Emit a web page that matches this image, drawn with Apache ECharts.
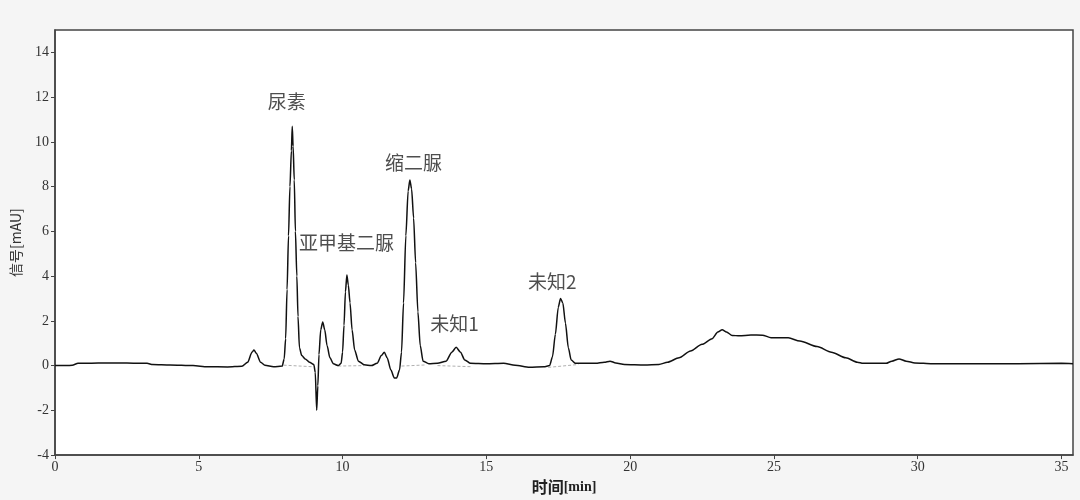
<!DOCTYPE html>
<html>
<head>
<meta charset="utf-8">
<script src="https://cdn.jsdelivr.net/npm/echarts@6/dist/echarts.min.js"></script>
<style>
html,body{margin:0;padding:0;background:#f5f5f5;}
#chart{width:1080px;height:500px;}
</style>
</head>
<body>
<div id="chart"></div>
<script>
// retention time (min)
const timeMin = [0,0.4,0.6,0.8,1.5,2.5,3.2,3.4,4.0,4.8,5.3,6.0,6.5,6.7,6.85,6.92,7.0,7.15,7.3,7.6,7.9,
  7.97,8.02,8.07,8.12,8.17,8.22,8.25,8.28,8.32,8.36,8.41,8.45,8.5,8.58,8.7,8.85,9.0,9.05,9.1,9.14,9.18,9.24,9.31,9.38,9.46,9.56,9.68,9.85,
  9.95,10.0,10.05,10.1,10.15,10.2,10.26,10.33,10.42,10.55,10.75,11.0,11.2,11.35,11.45,11.55,11.68,11.8,11.88,11.98,
  12.05,12.12,12.2,12.28,12.34,12.4,12.47,12.54,12.62,12.7,12.8,13.0,13.3,13.6,13.8,13.95,14.1,14.25,14.45,15.0,15.6,16.0,16.5,17.0,
  17.2,17.3,17.4,17.5,17.58,17.66,17.75,17.85,17.95,18.1,18.8,19.1,19.3,19.5,19.8,20.5,21.0,21.3,21.7,22.1,22.5,22.85,23.05,23.2,23.35,
  23.55,23.8,24.2,24.6,24.9,25.5,25.9,26.5,27.0,27.5,27.9,28.1,28.9,29.1,29.35,29.6,29.9,30.5,32.0,33.5,35.0,35.4];
// signal (mAU)
const signalMAU = [0,0,0.02,0.1,0.12,0.12,0.1,0.05,0.03,0,-0.05,-0.06,-0.03,0.15,0.6,0.7,0.55,0.15,0.02,-0.05,-0.02,
  0.3,1.2,3.4,5.8,8.0,9.6,10.7,9.8,8.3,6.0,4.0,2.2,0.8,0.45,0.3,0.15,0.05,-0.3,-2.0,-0.9,0.5,1.6,1.95,1.6,0.9,0.35,0.08,0,
  0.1,0.6,1.8,3.3,4.05,3.6,2.8,1.6,0.7,0.2,0.04,0,0.1,0.45,0.6,0.35,-0.2,-0.55,-0.55,-0.2,
  0.6,2.8,5.8,7.8,8.3,7.9,6.6,4.6,2.4,0.9,0.2,0.08,0.1,0.2,0.6,0.82,0.6,0.25,0.1,0.08,0.1,0.02,-0.07,-0.05,
  0,0.4,1.4,2.6,3.0,2.8,1.9,0.8,0.25,0.1,0.1,0.15,0.2,0.12,0.05,0.03,0.05,0.15,0.35,0.65,0.95,1.2,1.5,1.6,1.5,
  1.35,1.33,1.37,1.36,1.25,1.24,1.1,0.85,0.6,0.35,0.15,0.1,0.1,0.2,0.3,0.2,0.12,0.08,0.08,0.08,0.1,0.08];
// integration baselines (start/end pairs)
const baseStartT = [7.95, 9.85, 12.05, 13.3, 17.15];
const baseStartV = [0.02, -0.02, -0.02, 0.0, -0.08];
const baseEndT   = [8.95, 10.75, 12.9, 14.5, 18.2];
const baseEndV   = [-0.05, 0.0, 0.03, -0.05, 0.05];
// peak annotations
const peakNames = ['尿素','亚甲基二脲','缩二脲','未知1','未知2'];
const peakLabelT = [8.06, 10.14, 12.47, 13.89, 17.29];
const peakLabelV = [11.8, 5.48, 9.05, 1.85, 3.75];
// axes
const xTicks = [0,5,10,15,20,25,30,35];
const yTicks = [-4,-2,0,2,4,6,8,10,12,14];

const lineData = timeMin.map((t,i)=>[t, signalMAU[i]]);
const baseData = [];
baseStartT.forEach((t,i)=>{ baseData.push([t, baseStartV[i]], [baseEndT[i], baseEndV[i]], [null,null]); });
const annData = peakNames.map((n,i)=>({value:[peakLabelT[i], peakLabelV[i]], name:n}));

const chart = echarts.init(document.getElementById('chart'), null, {renderer:'canvas'});
chart.setOption({
  backgroundColor:'#f5f5f5',
  animation:false,
  grid:{left:55,right:7,top:30,bottom:44,show:true,backgroundColor:'#ffffff',borderColor:'#444',borderWidth:1.5},
  xAxis:{
    type:'value',min:0,max:35.4,interval:5,
    name:'{a|时间}{b|[min]}',nameLocation:'middle',nameGap:23,
    nameTextStyle:{rich:{
      a:{fontFamily:'Noto Sans CJK SC',fontSize:16,fontWeight:'bold',color:'#222'},
      b:{fontFamily:'Liberation Serif',fontSize:14,fontWeight:'bold',color:'#222'}}},
    axisLine:{show:true,onZero:false,lineStyle:{color:'#444',width:1.5}},
    axisTick:{show:true,length:4,lineStyle:{color:'#444'}},
    axisLabel:{showMaxLabel:false,fontFamily:'Liberation Serif',fontSize:14,color:'#333',margin:5,
      formatter:v=> xTicks.indexOf(v)>=0 ? String(v) : ''},
    splitLine:{show:false}
  },
  yAxis:{
    type:'value',min:-4,max:15,interval:2,
    name:'信号[mAU]',nameLocation:'middle',nameGap:32,nameRotate:90,
    nameTextStyle:{fontFamily:'Noto Sans CJK SC',fontSize:14,color:'#333'},
    axisLine:{show:true,onZero:false,lineStyle:{color:'#444',width:1.5}},
    axisTick:{show:true,length:4,lineStyle:{color:'#444'}},
    axisLabel:{showMaxLabel:false,fontFamily:'Liberation Serif',fontSize:14,color:'#333',margin:6,
      formatter:v=> yTicks.indexOf(v)>=0 ? String(v) : ''},
    splitLine:{show:false}
  },
  series:[
    {type:'line',data:baseData,showSymbol:false,connectNulls:false,z:1,
     lineStyle:{color:'#b0b0b0',width:1,type:[3,2]}},
    {type:'line',data:lineData,showSymbol:false,smooth:0.25,smoothMonotone:'x',z:2,
     lineStyle:{color:'#111',width:1.5}},
    {type:'scatter',data:annData,symbolSize:0,z:3,
     label:{show:true,position:'inside',formatter:p=>p.name,
       fontFamily:'Noto Sans CJK SC',fontSize:19,color:'#222'}}
  ]
});
</script>
</body>
</html>
